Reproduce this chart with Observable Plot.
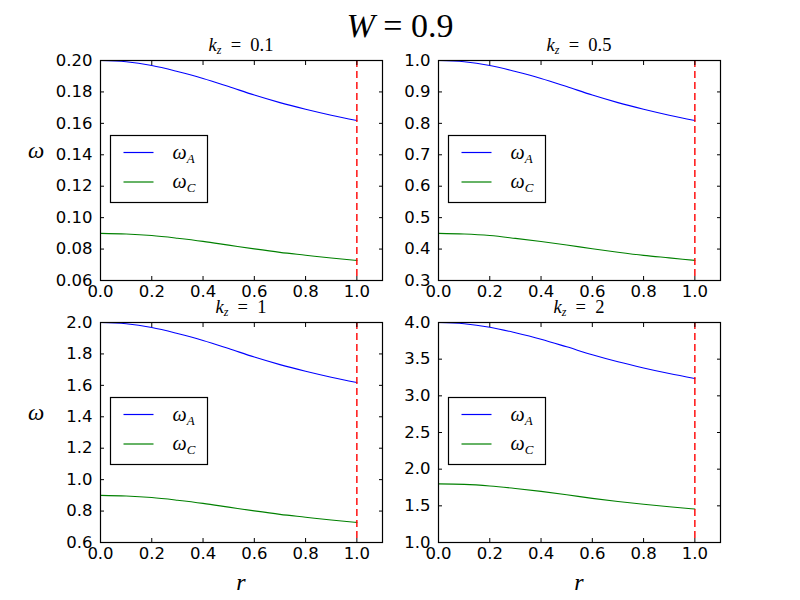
<!DOCTYPE html>
<html>
<head>
<meta charset="utf-8">
<script src="https://cdn.jsdelivr.net/npm/d3@7"></script>
<script src="https://cdn.jsdelivr.net/npm/@observablehq/plot@0.6"></script>
<style>
  html, body { margin: 0; padding: 0; background: #fff; }
  #wrap { position: relative; width: 800px; height: 600px; background: #fff; overflow: hidden; }
  #wrap > .panel { position: absolute; }
  #wrap svg { overflow: visible; }
  #overlay { position: absolute; left: 0; top: 0; pointer-events: none; }
</style>
</head>
<body>
<div id="wrap"></div>
<script>
// ---- data ----
const rValues = [0.0, 0.1, 0.2, 0.3, 0.4, 0.5, 0.6, 0.7, 0.8, 0.9, 1.0];
const kzLabels = ["0.1", "0.5", "1", "2"];

const omegaA_kz01 = [0.2000, 0.1992, 0.1968, 0.1930, 0.1886, 0.1834, 0.1780, 0.1732, 0.1690, 0.1652, 0.1618];
const omegaC_kz01 = [0.0900, 0.0896, 0.0886, 0.0869, 0.0849, 0.0825, 0.0801, 0.0779, 0.0761, 0.0743, 0.0728];
const omegaA_kz05 = [1.000, 0.996, 0.984, 0.965, 0.943, 0.917, 0.890, 0.866, 0.845, 0.826, 0.809];
const omegaC_kz05 = [0.450, 0.448, 0.443, 0.434, 0.424, 0.413, 0.401, 0.390, 0.380, 0.372, 0.364];
const omegaA_kz1  = [2.000, 1.992, 1.968, 1.930, 1.886, 1.834, 1.780, 1.732, 1.690, 1.652, 1.618];
const omegaC_kz1  = [0.900, 0.896, 0.886, 0.869, 0.849, 0.825, 0.801, 0.779, 0.761, 0.743, 0.728];
const omegaA_kz2  = [4.000, 3.984, 3.936, 3.860, 3.772, 3.668, 3.560, 3.464, 3.380, 3.304, 3.236];
const omegaC_kz2  = [1.800, 1.793, 1.771, 1.737, 1.697, 1.651, 1.602, 1.559, 1.521, 1.487, 1.456];

const xTicks = [0.0, 0.2, 0.4, 0.6, 0.8, 1.0];
const yTicks_kz01 = [0.06, 0.08, 0.10, 0.12, 0.14, 0.16, 0.18, 0.20];
const yTicks_kz05 = [0.3, 0.4, 0.5, 0.6, 0.7, 0.8, 0.9, 1.0];
const yTicks_kz1  = [0.6, 0.8, 1.0, 1.2, 1.4, 1.6, 1.8, 2.0];
const yTicks_kz2  = [1.0, 1.5, 2.0, 2.5, 3.0, 3.5, 4.0];
const boundaryR = [1.0];
const xDomain = [0, 1.1];

const panels = [
  {kz: kzLabels[0], A: omegaA_kz01, C: omegaC_kz01, yTicks: yTicks_kz01, fmt: ".2f", left: 100, top: 60, ylab: true,  xlab: false},
  {kz: kzLabels[1], A: omegaA_kz05, C: omegaC_kz05, yTicks: yTicks_kz05, fmt: ".1f", left: 438, top: 60, ylab: false, xlab: false},
  {kz: kzLabels[2], A: omegaA_kz1,  C: omegaC_kz1,  yTicks: yTicks_kz1,  fmt: ".1f", left: 100, top: 322, ylab: true,  xlab: true},
  {kz: kzLabels[3], A: omegaA_kz2,  C: omegaC_kz2,  yTicks: yTicks_kz2,  fmt: ".1f", left: 438, top: 322, ylab: false, xlab: true}
];

const BLUE = "#0000ff", GREEN = "#008000", RED = "#ff0000";
const FW = 282, FH = 220; // frame size
const ML = 100, MT = 40;

const wrap = document.getElementById("wrap");

for (const p of panels) {
  const dA = rValues.map((r, i) => ({r, v: p.A[i]}));
  const dC = rValues.map((r, i) => ({r, v: p.C[i]}));
  const yDomain = [p.yTicks[0], p.yTicks[p.yTicks.length - 1]];
  const chart = Plot.plot({
    width: ML + FW + 18,
    height: MT + FH + 40,
    marginLeft: ML, marginRight: 18, marginTop: MT, marginBottom: 40,
    x: {domain: xDomain},
    y: {domain: yDomain},
    style: {background: "transparent", fontFamily: "'DejaVu Sans', sans-serif", fontSize: "16.5px", color: "#000", overflow: "visible"},
    marks: [
      Plot.line(dA, {x: "r", y: "v", stroke: BLUE, strokeWidth: 1.1, curve: "monotone-x"}),
      Plot.line(dC, {x: "r", y: "v", stroke: GREEN, strokeWidth: 1.1, curve: "monotone-x"}),
      Plot.ruleX(boundaryR, {stroke: RED, strokeWidth: 1.4, strokeDasharray: "7,4"}),
      Plot.frame({stroke: "#000", strokeWidth: 1.2}),
      Plot.axisX(xTicks, {anchor: "bottom", tickSize: -4, tickPadding: 9, tickFormat: d3.format(".1f"), label: null, fill: "#000", stroke: "#000"}),
      Plot.axisX(xTicks, {anchor: "top", tickSize: -4, tickFormat: () => "", label: null, stroke: "#000"}),
      Plot.axisY(p.yTicks, {anchor: "left", tickSize: -4, tickPadding: 12, tickFormat: d3.format(p.fmt), label: null, fill: "#000", stroke: "#000"}),
      Plot.axisY(p.yTicks, {anchor: "right", tickSize: -4, tickFormat: () => "", label: null, stroke: "#000"})
    ]
  });
  const holder = document.createElement("div");
  holder.className = "panel";
  holder.style.left = (p.left - ML) + "px";
  holder.style.top = (p.top - MT) + "px";
  holder.appendChild(chart);
  wrap.appendChild(holder);
}

// ---- overlay text: title, panel titles, axis labels, legends ----
const NS = "http://www.w3.org/2000/svg";
const ov = document.createElementNS(NS, "svg");
ov.setAttribute("id", "overlay");
ov.setAttribute("width", 800);
ov.setAttribute("height", 600);
wrap.appendChild(ov);
const MATH = "'Liberation Serif', 'DejaVu Serif', serif";

function el(tag, attrs, parent) {
  const e = document.createElementNS(NS, tag);
  for (const k in attrs) e.setAttribute(k, attrs[k]);
  (parent || ov).appendChild(e);
  return e;
}
function tspan(parent, text, attrs) {
  const t = el("tspan", attrs || {}, parent);
  t.textContent = text;
  return t;
}

// main title
{
  const t = el("text", {x: 400, y: 37, "text-anchor": "middle", "font-family": MATH, "font-size": 34, fill: "#000"});
  tspan(t, "W", {"font-style": "italic"});
  tspan(t, " = 0.9");
}

for (const p of panels) {
  const cx = p.left + FW / 2;
  // panel title k_z = ...
  const t = el("text", {x: cx, y: p.top - 9, "text-anchor": "middle", "font-family": MATH, "font-size": 18.5, fill: "#000"});
  tspan(t, "k", {"font-style": "italic"});
  tspan(t, "z", {"font-style": "italic", "font-size": 12, dy: 3});
  tspan(t, "\u2002=\u2002" + p.kz, {dy: -3});

  if (p.ylab) {
    const w = el("text", {x: 36, y: p.top + 98, "text-anchor": "middle", "font-family": MATH, "font-size": 23, "font-style": "italic", fill: "#000"});
    w.textContent = "ω";
  }
  if (p.xlab) {
    const r = el("text", {x: cx, y: p.top + FH + 48, "text-anchor": "middle", "font-family": MATH, "font-size": 24, "font-style": "italic", fill: "#000"});
    r.textContent = "r";
  }

  // legend
  const g = el("g", {transform: `translate(${p.left + 10.5},${p.top + 75.5})`});
  el("rect", {x: 0, y: 0, width: 97, height: 67, fill: "#fff", stroke: "#000", "stroke-width": 1.2}, g);
  const entries = [
    {sub: "A", color: BLUE, y: 17},
    {sub: "C", color: GREEN, y: 46.5}
  ];
  for (const e of entries) {
    el("line", {x1: 13, x2: 43, y1: e.y, y2: e.y, stroke: e.color, "stroke-width": 1.2}, g);
    const lt = el("text", {x: 62, y: e.y + 6, "font-family": MATH, "font-size": 20, "font-style": "italic", fill: "#000"}, g);
    tspan(lt, "ω");
    tspan(lt, e.sub, {"font-size": 13, dy: 4});
  }
}
</script>
</body>
</html>
